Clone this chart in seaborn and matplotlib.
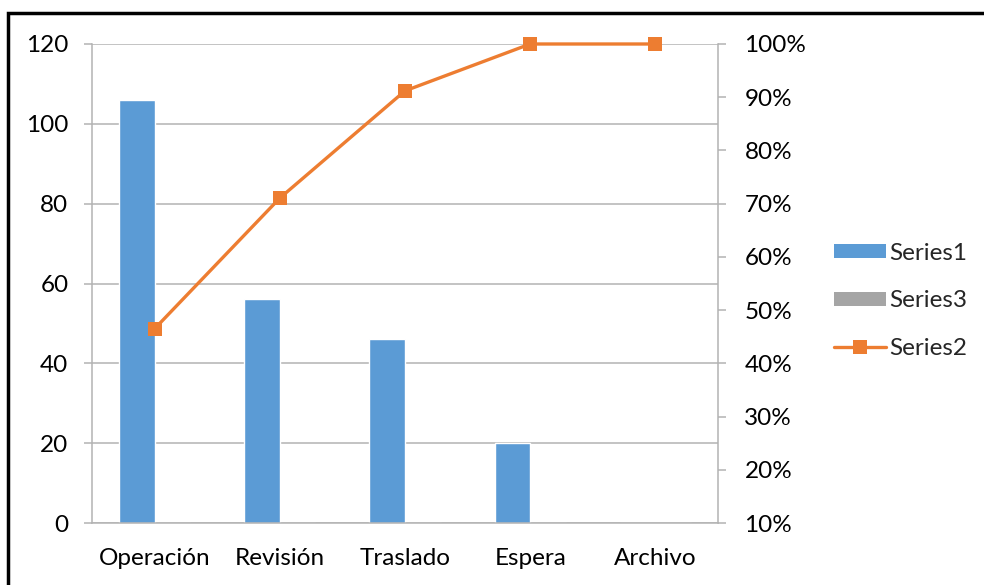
import matplotlib
matplotlib.use("Agg")
import matplotlib.pyplot as plt
import seaborn as sns
import pandas as pd
from matplotlib.patches import Rectangle, Patch
from matplotlib.lines import Line2D
from matplotlib.ticker import FuncFormatter, MultipleLocator

categories = ["Operación", "Revisión", "Traslado", "Espera", "Archivo"]
series1 = [106, 56, 46, 20, 0]
series3 = [0, 0, 0, 0, 0]
series2 = [0.465, 0.7105, 0.912, 1.0, 1.0]

BLUE = "#5B9BD5"
ORANGE = "#ED7D31"
GRAY = "#A5A5A5"
GRID = "#B3B3B3"
FS = 17.5

sns.set_theme(style="white")
plt.rcParams["font.family"] = ["Lato", "DejaVu Sans"]

W, H = 984, 585
fig = plt.figure(figsize=(W / 100, H / 100), dpi=100)
ax = fig.add_axes([92 / W, 1 - 523 / H, (718 - 92) / W, (523 - 44) / H])

df = pd.DataFrame({
    "cat": categories * 2,
    "val": series1 + series3,
    "series": ["Series1"] * len(categories) + ["Series3"] * len(categories),
})
sns.barplot(data=df, x="cat", y="val", hue="series", order=categories,
            hue_order=["Series1", "Series3"], palette=[BLUE, GRAY],
            width=0.57, gap=0, dodge=True, saturation=1, errorbar=None,
            legend=False, ax=ax)

ax.set_xlim(-0.5, 4.5)
ax.set_ylim(0, 120)
ax.yaxis.set_major_locator(MultipleLocator(20))
ax.set_xlabel("")
ax.set_ylabel("")
ax.grid(axis="y", color=GRID, linewidth=1.1)
ax.set_axisbelow(True)
for s in ["top", "right"]:
    ax.spines[s].set_visible(False)
for s in ["left", "bottom"]:
    ax.spines[s].set_color(GRID)
    ax.spines[s].set_linewidth(1.1)
ax.set_xticks(range(len(categories)))
ax.set_xticklabels(categories)
ax.tick_params(axis="x", length=0, pad=18, labelsize=FS, colors="black")
ax.set_xticks([i - 0.5 for i in range(len(categories) + 1)], minor=True)
ax.tick_params(axis="x", which="minor", length=8, width=1.1, color=GRID, direction="out")
ax.tick_params(axis="y", length=6, width=1.1, color=GRID, pad=11, labelsize=FS,
               colors="black", left=True)

ax2 = ax.twinx()
sns.lineplot(x=list(range(len(categories))), y=series2, ax=ax2, color=ORANGE,
             linewidth=2.4, marker="s", markersize=10, markeredgewidth=0,
             clip_on=False)
ax2.set_ylim(0.1, 1.0)
ax2.yaxis.set_major_locator(MultipleLocator(0.1))
ax2.yaxis.set_major_formatter(FuncFormatter(lambda v, p: f"{v*100:.0f}%"))
ax2.set_xlim(-0.5, 4.5)
for s in ["top", "left", "bottom"]:
    ax2.spines[s].set_visible(False)
ax2.spines["right"].set_color(GRID)
ax2.spines["right"].set_linewidth(1.1)
ax2.tick_params(axis="y", length=6, width=1.1, color=GRID, pad=13, labelsize=FS,
                colors="black", right=True)
ax2.set_ylabel("")

handles = [
    Patch(facecolor=BLUE, edgecolor="none", label="Series1"),
    Patch(facecolor=GRAY, edgecolor="none", label="Series3"),
    Line2D([0], [0], color=ORANGE, linewidth=2.4, marker="s", markersize=10,
           markeredgewidth=0, label="Series2"),
]
fig.legend(handles=handles, loc="center left", bbox_to_anchor=(824 / W, 1 - 301 / H),
           frameon=False, fontsize=FS, handlelength=2.15, handleheight=0.55,
           handletextpad=0.15, labelspacing=1.1, borderaxespad=0)

fig.patches.append(Rectangle((8 / W, -0.05), 1.1, 1 - 13 / H + 0.05,
                             transform=fig.transFigure, fill=False,
                             edgecolor="black", linewidth=2.5, zorder=10))

fig.savefig("out.png", dpi=100)
